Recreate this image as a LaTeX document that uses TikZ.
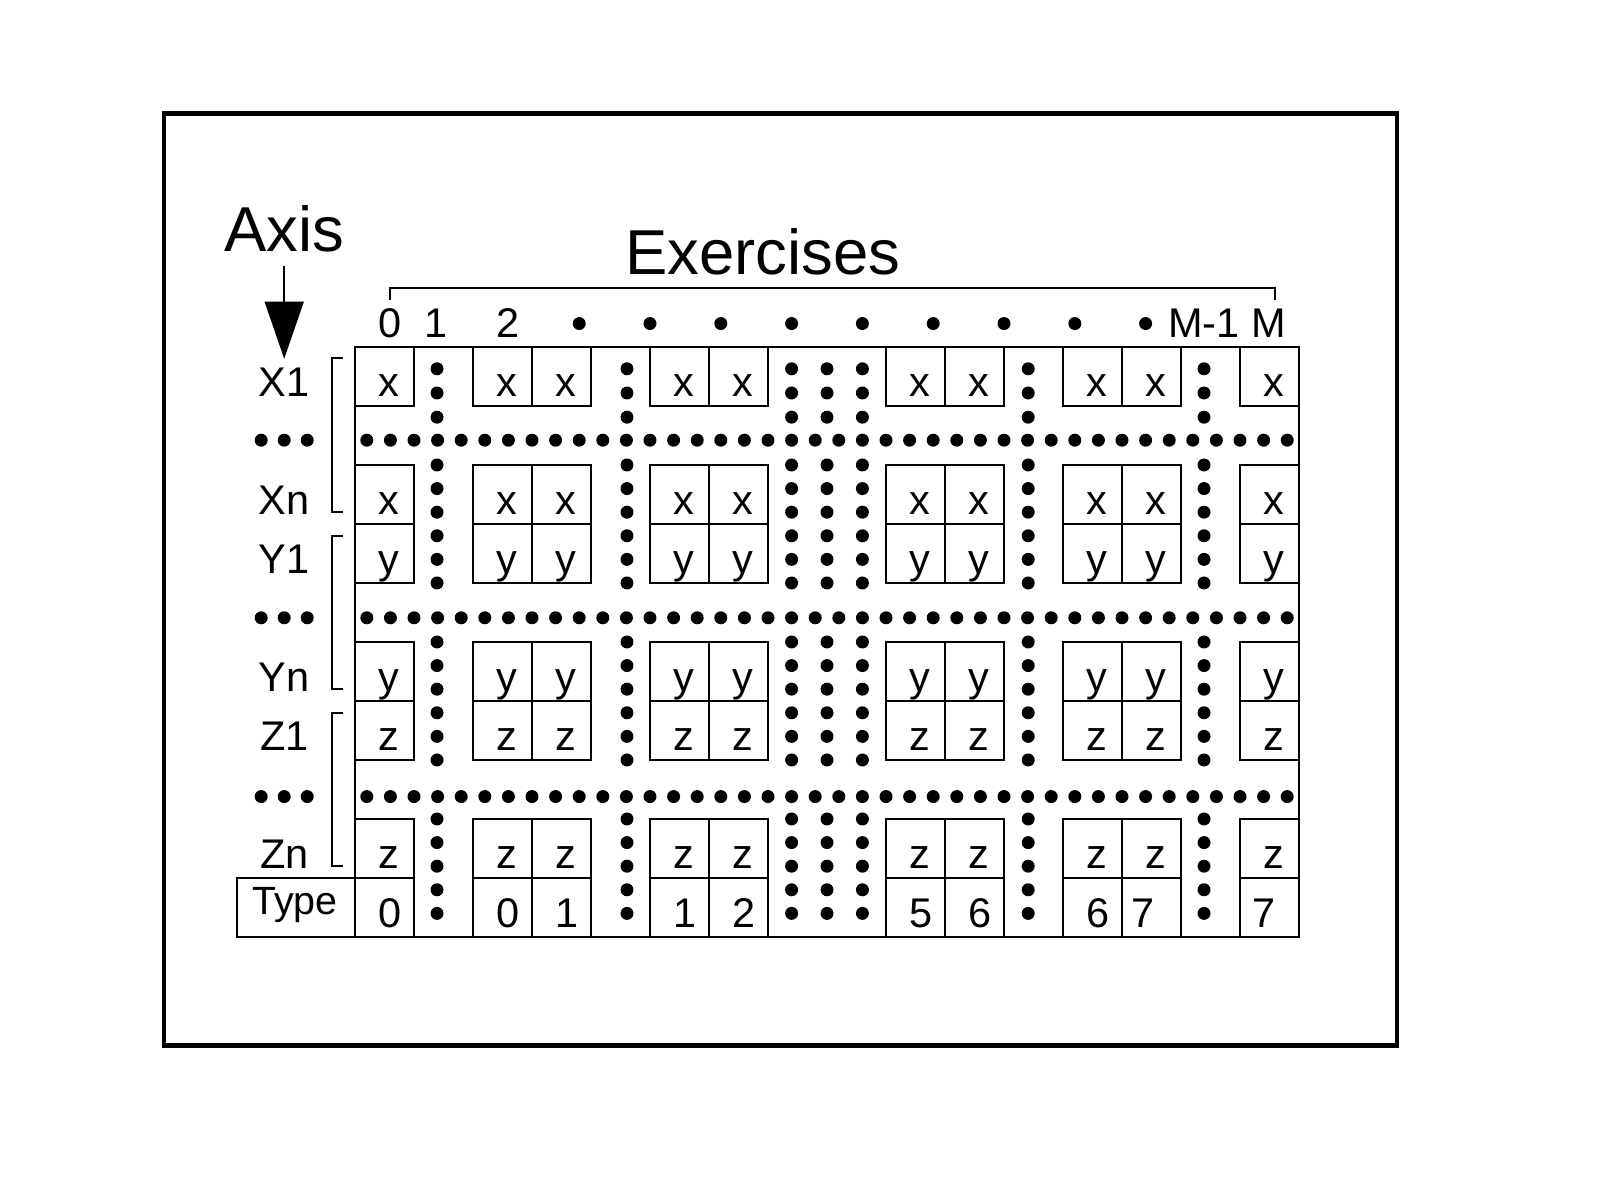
\documentclass[tikz,border=0pt]{standalone}
\usepackage{fontspec}
\setmainfont{Liberation Sans}
\usetikzlibrary{arrows.meta}

\begin{document}
\begin{tikzpicture}[line width=1pt]
\tikzstyle{frame} = [draw, line width=2.2pt]
\tikzstyle{cell} = [draw, line width=1pt]
\tikzstyle{entry} = [anchor=base, inner sep=0pt, font=\fontsize{20}{24}\selectfont]
\tikzstyle{title} = [anchor=base, inner sep=0pt, font=\fontsize{30.6}{36}\selectfont]
\tikzstyle{dot} = [fill=black]
\tikzstyle{bracket} = [draw, line width=1pt]
\tikzstyle{axisarrow} = [draw, line width=1pt, -{Triangle[width=0.66cm,length=0.97cm]}]

\useasboundingbox (-6.017,5.881) rectangle (21.203,-14.424);
\draw [frame] (-3.239,3.954) rectangle (17.66,-11.842);

% titles
\node (axis) [title] at (-1.2,1.615) {Axis};
\node (exercises) [title] at (6.915,1.229) {Exercises};

% exercise indices
\node (ex0) [entry] at (0.6,0.153) {0};
\node (ex1) [entry] at (1.38,0.153) {1};
\node (ex2) [entry] at (2.6,0.153) {2};
\node (exm1) [entry] at (14.39,0.153) {M-1};
\node (exm) [entry] at (15.49,0.153) {M};
\foreach \k in {0,...,8}
  \fill [dot] (3.8+1.2*\k,0.397) circle (0.11);
\draw [bracket] (0.6,0.8) |- (15.6,1.0) -- (15.6,0.8);

% axis labels
\foreach \r/\t/\n in {0/X1/x1, 2/Xn/xn, 3/Y1/y1, 5/Yn/yn, 6/Z1/z1, 8/Zn/zn}
  \node (\n) [entry] at (-1.2,-\r-0.835) {\t};
\foreach \y in {1.58,4.59,7.62}
  \foreach \x in {-1.59,-1.2,-0.81}
    \fill [dot] (\x,-\y) circle (0.11);
\foreach \t in {0.19,3.2,6.2}
  \draw [bracket] (-0.2,-\t) -| (-0.39,-\t-2.6) -- (-0.2,-\t-2.6);
\coordinate (axistip) at (-1.2,-0.2);
\draw [axisarrow, shorten <=0.21cm] (axis.south) -- (axistip);

% type header
\draw [cell] (-2,-9) rectangle (0,-10);
\node (type) [entry, font=\fontsize{19}{23}\selectfont] at (-1.02,-9.62) {Type};

% grid of exercises
\draw [cell] (0,0) rectangle (16,-10);
\foreach \c/\px/\t in {0/0.6/0, 2/2.6/0, 3/3.6/1, 5/5.6/1, 6/6.6/2, 9/9.6/5, 10/10.6/6, 12/12.6/6, 13/13.35/7, 15/15.4/7}
 {
  \foreach \r/\v in {0/x, 2/x, 3/y, 5/y, 6/z, 8/z}
   {
    \draw [cell] (\c,-\r) rectangle (\c+1,-\r-1);
    \node (c\r-\c) [entry] at (\c+0.58,-\r-0.835) {\v};
   }
  \draw [cell] (\c,-9) rectangle (\c+1,-10);
  \node (t\c) [entry] at (\px,-9.835) {\t};
 }

% skipped exercises
\foreach \x in {1.39,4.61,7.4,8.0,8.6,11.41,14.39}
 {
  \foreach \k in {0,1,2} \fill [dot] (\x,-0.37-0.41*\k) circle (0.11);
  \foreach \k in {0,...,5} \fill [dot] (\x,-2-0.4*\k) circle (0.11);
  \foreach \k in {0,...,5} \fill [dot] (\x,-5-0.4*\k) circle (0.11);
  \foreach \k in {0,...,4} \fill [dot] (\x,-8-0.4*\k) circle (0.11);
 }

% skipped axes
\foreach \y in {1.58,4.59,7.62}
  \foreach \k in {0,...,39}
    \fill [dot] (0.2+0.4*\k,-\y) circle (0.11);
\end{tikzpicture}
\end{document}
